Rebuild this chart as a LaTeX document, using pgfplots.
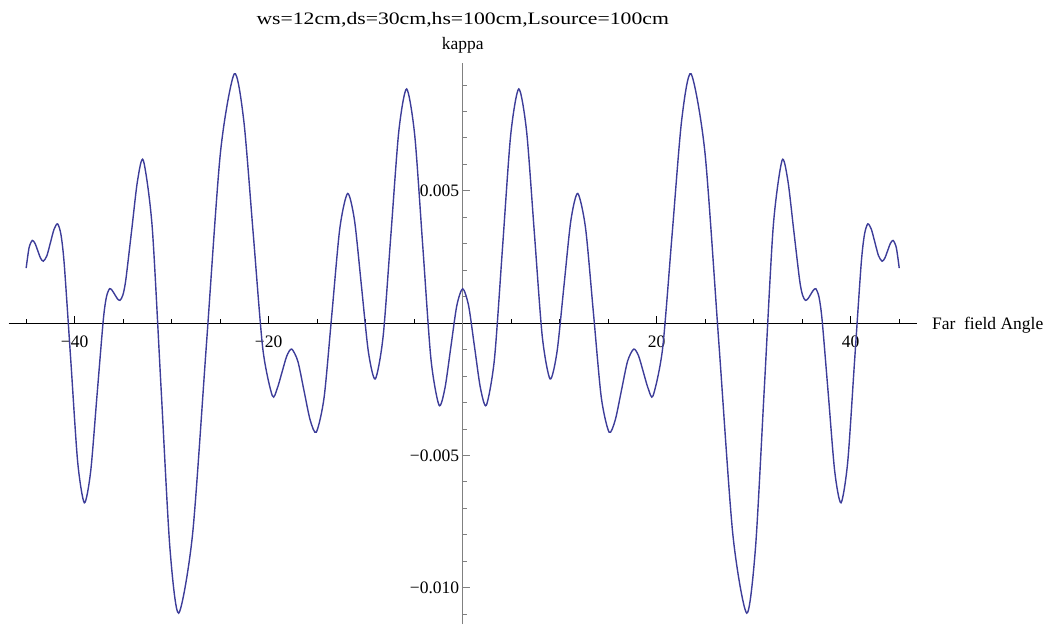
\documentclass[border=0pt]{standalone}
\usepackage{pgfplots}
\pgfplotsset{compat=1.18}
\usepackage{fontspec}
\setmainfont{Liberation Serif}
\newfontfamily\titlefont[FakeStretch=1.24]{Liberation Serif}
\definecolor{curve}{RGB}{61,61,153}
\definecolor{yaxgray}{RGB}{128,128,128}
\begin{document}
\begin{tikzpicture}
\path[use as bounding box] (-8.7pt,0pt) rectangle (1038.3pt,624pt);
\begin{axis}[
  scale only axis,
  width=908pt, height=561pt,
  xmin=-46.8, xmax=46.8,
  ymin=-0.01137, ymax=0.00983,
  axis lines=middle,
  x axis line style={-, black, line width=0.8pt},
  y axis line style={-, yaxgray, line width=1.3pt},
  tick align=inside,
  major tick length=7pt,
  minor tick length=4.5pt,
  x tick style={black, line width=0.7pt},
  y tick style={yaxgray, line width=0.8pt},
  xtick={-40,-20,20,40},
  xticklabels={−40,−20,20,40},
  minor xtick={-45,-35,-30,-25,-15,-10,-5,5,10,15,25,30,35,45},
  ytick={-0.01,-0.005,0.005},
  yticklabels={−0.010,−0.005,0.005},
  minor ytick={-0.011,-0.009,-0.008,-0.007,-0.006,-0.004,-0.003,-0.002,-0.001,0.001,0.002,0.003,0.004,0.006,0.007,0.008,0.009},
  scaled y ticks=false,
  scaled x ticks=false,
  tick label style={font=\fontsize{17.5}{21}\selectfont, text=black},
  xticklabel style={anchor=north, yshift=-9pt},
  yticklabel style={anchor=east},
  xlabel={Far\ \ field Angle},
  ylabel={kappa},
  xlabel style={at={(current axis.right of origin)}, anchor=base west, inner sep=0pt, xshift=15pt, yshift=-6.7pt, font=\fontsize{17.5}{21}\selectfont},
  ylabel style={at={(axis description cs:0.5,1)}, anchor=base, inner sep=0pt, rotate=0, yshift=13pt, font=\fontsize{17.5}{21}\selectfont},
  title={ws=12cm,ds=30cm,hs=100cm,Lsource=100cm},
  title style={at={(axis description cs:0.5,1)}, anchor=base, inner sep=0pt, yshift=32pt, font=\titlefont\fontsize{17.5}{21}\selectfont},
]
\addplot[curve, line width=1.4pt, smooth, tension=0.45, mark=none] table {
x y
-45.00 0.00208
-44.70 0.00285
-44.37 0.003125
-44.085 0.00301
-43.80 0.002733
-43.515 0.002455
-43.23 0.00234
-42.863 0.002547
-42.495 0.003045
-42.128 0.003544
-41.76 0.00375
-41.415 0.003349
-41.07 0.002206
-40.38 -0.00152
-39.69 -0.005246
-39.00 -0.00679
-38.35 -0.005605
-37.70 -0.002745
-37.05 0.000115
-36.725 0.00099
-36.40 0.00130
-36.133 0.001236
-35.865 0.00108
-35.598 0.000924
-35.33 0.00086
-35.03 0.001061
-34.728 0.001635
-34.125 0.003505
-33.523 0.005375
-32.92 0.00615
-32.01 0.003644
-31.10 -0.002405
-30.19 -0.008454
-29.28 -0.01096
-27.845 -0.007975
-26.41 -0.00077
-24.975 0.006435
-23.54 0.00942
-22.563 0.007639
-21.585 0.00334
-20.608 -0.000959
-19.63 -0.00274
-19.13 -0.002482
-18.63 -0.00186
-18.13 -0.001238
-17.63 -0.00098
-16.995 -0.00144
-16.36 -0.00255
-15.725 -0.00366
-15.09 -0.00412
-14.283 -0.002799
-13.475 0.00039
-12.668 0.003579
-11.86 0.00490
-11.148 0.003873
-10.435 0.001395
-9.723 -0.001083
-9.01 -0.00211
-8.203 -0.000505
-7.395 0.00337
-6.588 0.007245
-5.78 0.00885
-4.945 0.00710
-4.11 0.002875
-3.275 -0.00135
-2.44 -0.00310
-1.83 -0.002456
-1.22 -0.00090
-0.61 0.000656
0 0.00130
0.61 0.000656
1.22 -0.00090
1.83 -0.002456
2.44 -0.00310
3.275 -0.00135
4.11 0.002875
4.945 0.00710
5.78 0.00885
6.588 0.007245
7.395 0.00337
8.203 -0.000505
9.01 -0.00211
9.723 -0.001083
10.435 0.001395
11.148 0.003873
11.86 0.00490
12.668 0.003579
13.475 0.00039
14.283 -0.002799
15.09 -0.00412
15.725 -0.00366
16.36 -0.00255
16.995 -0.00144
17.63 -0.00098
18.13 -0.001238
18.63 -0.00186
19.13 -0.002482
19.63 -0.00274
20.608 -0.000959
21.585 0.00334
22.563 0.007639
23.54 0.00942
24.975 0.006435
26.41 -0.00077
27.845 -0.007975
29.28 -0.01096
30.19 -0.008454
31.10 -0.002405
32.01 0.003644
32.92 0.00615
33.523 0.005375
34.125 0.003505
34.728 0.001635
35.03 0.001061
35.33 0.00086
35.598 0.000924
35.865 0.00108
36.133 0.001236
36.40 0.00130
36.725 0.00099
37.05 0.000115
37.70 -0.002745
38.35 -0.005605
39.00 -0.00679
39.69 -0.005246
40.38 -0.00152
41.07 0.002206
41.415 0.003349
41.76 0.00375
42.128 0.003544
42.495 0.003045
42.863 0.002547
43.23 0.00234
43.515 0.002455
43.80 0.002733
44.085 0.00301
44.37 0.003125
44.70 0.00285
45.00 0.00208
};
\end{axis}
\end{tikzpicture}
\end{document}
